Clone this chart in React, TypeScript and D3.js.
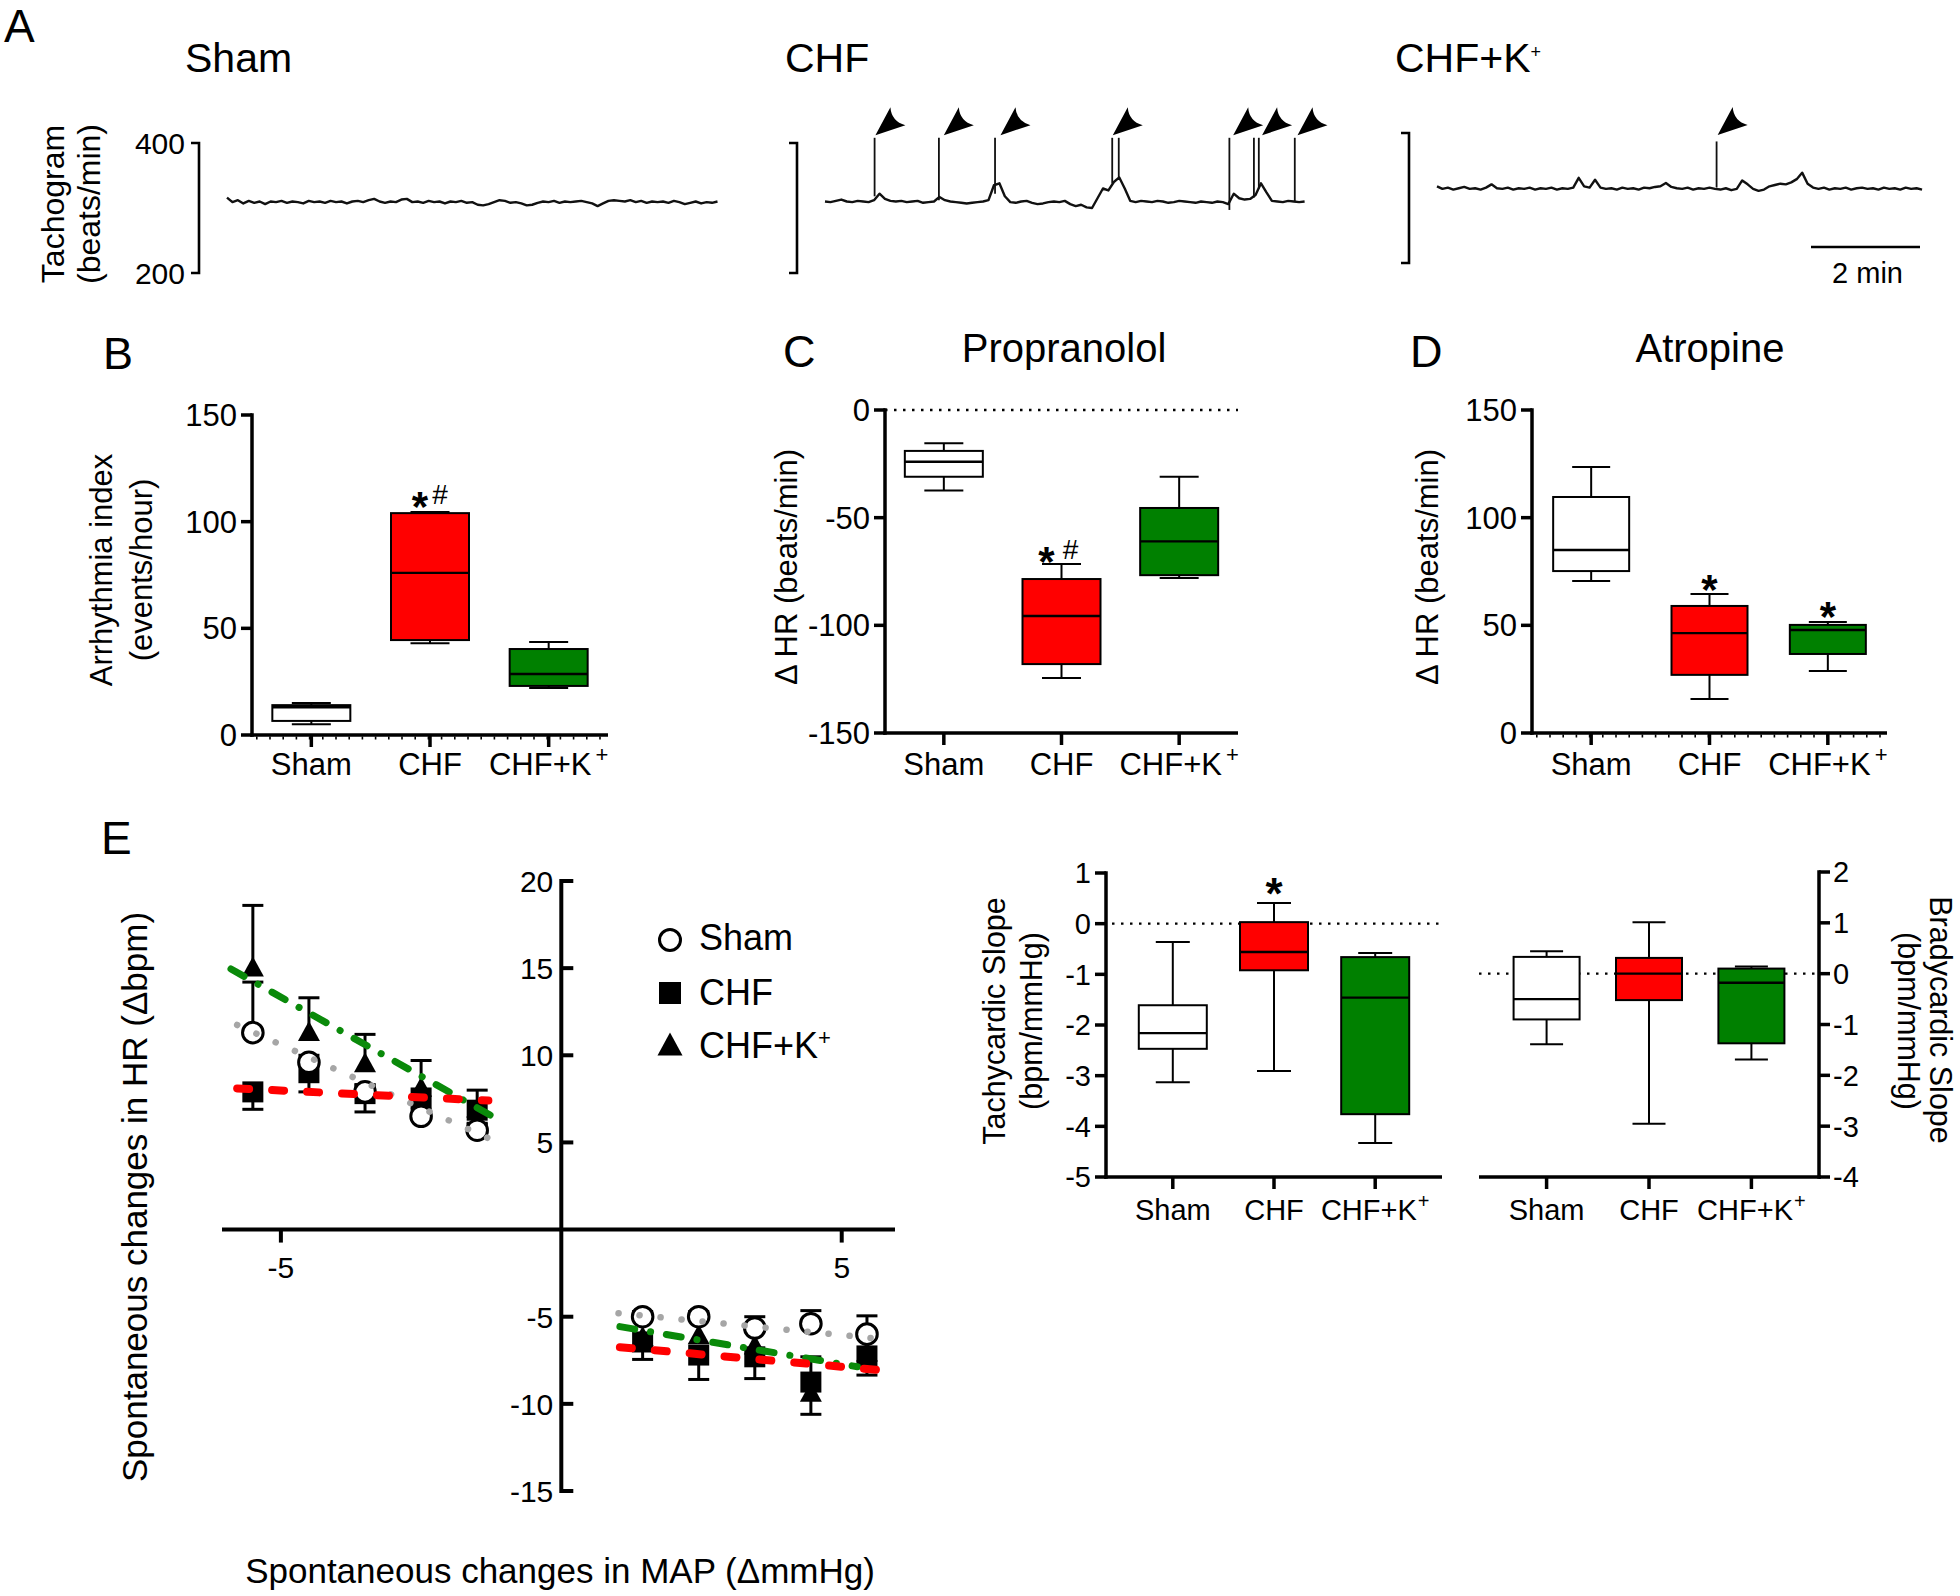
import React from 'react';
import * as d3 from 'd3';

const FONT = "'Liberation Sans', Arial, Helvetica, sans-serif";

// ---------------- Panel A: tachograms (beats/min, one sample every 0.1 min) ----------------
const TRACE_STEP_MIN = 0.1;
const shamTrace = [
  316, 309, 312, 307, 311, 308, 310, 306, 310, 309,
  311, 308, 310, 309, 307, 311, 309, 310, 308, 311,
  309, 310, 307, 310, 311, 309, 312, 314, 310, 308,
  310, 309, 313, 314, 309, 310, 308, 311, 309, 310,
  307, 310, 309, 311, 308, 309, 305, 304, 306, 309,
  312, 311, 308, 309, 307, 304, 305, 308, 310, 309,
  311, 308, 310, 309, 310, 311, 309, 307, 303, 307,
  311, 312, 311, 310, 312, 309, 311, 308, 310, 309,
  310, 308, 311, 309, 306, 308, 310, 307, 309, 308,
  310,
];
const chfTrace = [
  310, 309, 311, 313, 310, 309, 311, 310, 309, 312,
  322, 314, 311, 310, 311, 309, 310, 311, 308, 309,
  310, 317, 312, 310, 309, 308, 307, 308, 309, 310,
  312, 335, 338, 318, 309, 308, 310, 311, 308, 306,
  307, 309, 310, 309, 311, 306, 303, 305, 301, 300,
  315, 330, 327, 340, 347, 330, 311, 309, 311, 310,
  309, 311, 310, 308, 309, 311, 310, 309, 308, 310,
  309, 308, 310, 309, 306, 322, 315, 313, 314, 320,
  338, 324, 311, 310, 309, 311, 310, 309, 310,
];
const chfKTrace = [
  318, 314, 316, 313, 315, 317, 314, 315, 313, 316,
  321, 315, 314, 316, 313, 315, 314, 316, 313, 315,
  314, 316, 313, 315, 314, 316, 331, 318, 316, 328,
  316, 314, 315, 313, 316, 314, 315, 313, 316, 315,
  317, 318, 323, 317, 315, 314, 316, 313, 315, 314,
  316, 314, 313, 315, 312, 314, 327, 321, 314, 311,
  313, 318, 320, 322, 321, 324, 329, 339, 322, 316,
  314, 316, 313, 315, 314, 316, 313, 315, 316, 314,
  315, 313, 316, 314, 315, 313, 316, 314, 315, 313,
];
const chfSpikeTimes = [0.91, 2.09, 3.12, 5.27, 5.39, 7.42, 7.87, 7.96, 8.62];
const chfSpikeLow = [318, 312, 322, 338, 344, 297, 316, 330, 310];
const chfSpikePeak = [408, 408, 408, 408, 408, 408, 408, 408, 408];
const chfArrowTimes = [0.925, 2.18, 3.22, 5.28, 7.49, 8.02, 8.67];
const chfArrowBpm = 412;
const chfKSpikeTimes = [5.13];
const chfKSpikeLow = [316];
const chfKSpikePeak = [387];
const chfKArrowTimes = [5.15];
const chfKArrowBpm = 397;
const tachoTicks = [200, 400];
const scaleBarMin = 2;

// ---------------- Box-plot panels ----------------
const groups = ['Sham', 'CHF', 'CHF+K'];
const groupFill = ['#ffffff', '#ff0000', '#008000'];

// B: Arrhythmia index (events/hour)
const arrMin = [5, 43, 22];
const arrQ1 = [6.6, 44.5, 23];
const arrMed = [13, 76, 28.6];
const arrQ3 = [14, 104, 40.3];
const arrMax = [15, 104.5, 43.6];
const arrTicks = [0, 50, 100, 150];

// C: Propranolol, delta HR (beats/min)
const proMin = [-37.4, -124.5, -78];
const proQ1 = [-31, -118, -76.7];
const proMed = [-24, -95.7, -61];
const proQ3 = [-19, -78.5, -45.5];
const proMax = [-15.4, -71.5, -31];
const proTicks = [-150, -100, -50, 0];

// D: Atropine, delta HR (beats/min)
const atrMin = [70.6, 15.8, 28.8];
const atrQ1 = [75.2, 27, 36.7];
const atrMed = [85, 46.4, 47.8];
const atrQ3 = [109.6, 59, 50.2];
const atrMax = [123.5, 64.6, 51.6];
const atrTicks = [0, 50, 100, 150];

// E right: Tachycardic slope (bpm/mmHg)
const tacMin = [-3.13, -2.91, -4.33];
const tacQ1 = [-2.47, -0.92, -3.76];
const tacMed = [-2.16, -0.56, -1.46];
const tacQ3 = [-1.61, 0.03, -0.66];
const tacMax = [-0.36, 0.41, -0.58];
const tacTicks = [-5, -4, -3, -2, -1, 0, 1];

// E right: Bradycardic slope (bpm/mmHg)
const braMin = [-1.39, -2.95, -1.69];
const braQ1 = [-0.9, -0.52, -1.37];
const braMed = [-0.5, 0.0, -0.18];
const braQ3 = [0.33, 0.31, 0.1];
const braMax = [0.44, 1.01, 0.14];
const braTicks = [-4, -3, -2, -1, 0, 1, 2];

// ---------------- E left: spontaneous HR vs MAP changes ----------------
const mapBins = [-5.5, -4.5, -3.5, -2.5, -1.5, 1.45, 2.45, 3.45, 4.45, 5.45];
const shamHR = [11.3, 9.6, 7.9, 6.5, 5.7, -5.0, -5.0, -5.65, -5.4, -6.0];
const shamErr = [2.9, 0.4, 0.4, 0.4, 0.4, 0.3, 0.3, 0.65, 0.75, 1.05];
const chfHR = [7.9, 9.0, 7.8, 7.55, 6.85, -6.45, -7.2, -7.3, -8.75, -7.25];
const chfErr = [-1.0, -1.1, -1.05, -0.9, -0.8, -1.0, -1.4, -1.25, -1.85, -1.1];
const chfKHR = [15.1, 11.4, 9.6, 8.2, 7.0, -6.1, -6.0, -6.6, -9.3, -7.0];
const chfKErr = [3.5, 1.9, 1.6, 1.5, 1.0, 0, 0, 0, 2.0, 0];
const regShamLeft = [[-5.78, 11.74], [-1.3, 5.24]];
const regShamRight = [[1.02, -4.8], [5.59, -6.24]];
const regChfLeft = [[-5.78, 8.1], [-1.3, 7.4]];
const regChfRight = [[1.045, -6.75], [5.64, -8.05]];
const regChfKLeft = [[-5.89, 14.95], [-1.27, 6.57]];
const regChfKRight = [[1.045, -5.57], [5.28, -7.87]];
const hrTicks = [-15, -10, -5, 5, 10, 15, 20];
const mapTicks = [-5, 5];

// ---------------- helpers ----------------
function GroupLabel({ x, y, label, size, supSize, supDy, supDx = 0 }: any) {
  if (label === 'CHF+K') {
    return (
      <text x={x} y={y} fontSize={size} textAnchor="middle">
        CHF+K
        <tspan fontSize={supSize} dy={-supDy} dx={supDx}>+</tspan>
      </text>
    );
  }
  return (
    <text x={x} y={y} fontSize={size} textAnchor="middle">
      {label}
    </text>
  );
}

function Arrowhead({ x, y }: { x: number; y: number }) {
  const d = `M${x},${y} L${x + 15},${y - 28} Q${x + 16},${y - 14} ${x + 30},${y - 10} Z`;
  return <path d={d} fill="#000" />;
}

function Trace({ values, tx, ty }: any) {
  const line = d3
    .line<number>()
    .x((_, i) => tx(i * TRACE_STEP_MIN))
    .y((v) => ty(v));
  return <path d={line(values) || ''} fill="none" stroke="#111" strokeWidth={2.4} strokeLinejoin="round" />;
}

function Bracket({ x, ty, labels }: any) {
  const yTop = ty(400);
  const yBot = ty(200);
  return (
    <g>
      <path d={`M${x - 8},${yTop} H${x} V${yBot} H${x - 8}`} fill="none" stroke="#000" strokeWidth={2.6} />
      {labels &&
        tachoTicks.map((t) => (
          <text key={t} x={x - 14} y={ty(t) + 10.5} fontSize={30} textAnchor="end">
            {t}
          </text>
        ))}
    </g>
  );
}

function PanelA() {
  const ty1 = d3.scaleLinear().domain([200, 400]).range([273, 143]);
  const ty2 = d3.scaleLinear().domain([200, 400]).range([263, 133]);
  const pxPerMin = 54.5;
  const txSham = d3.scaleLinear().domain([0, 1]).range([227, 227 + pxPerMin]);
  const txChf = d3.scaleLinear().domain([0, 1]).range([825, 825 + pxPerMin]);
  const txK = d3.scaleLinear().domain([0, 1]).range([1437, 1437 + pxPerMin]);
  const barRight = 1920;
  const barLeft = barRight - (txK(scaleBarMin) - txK(0));
  return (
    <g>
      <text x={4} y={42} fontSize={46}>A</text>
      <text x={185} y={72} fontSize={41}>Sham</text>
      <text x={785} y={72} fontSize={41}>CHF</text>
      <text x={1395} y={72} fontSize={41}>
        CHF+K<tspan fontSize={18} dy={-14}>+</tspan>
      </text>
      <text transform="translate(64,204) rotate(-90)" fontSize={32} textAnchor="middle">Tachogram</text>
      <text transform="translate(100,204) rotate(-90)" fontSize={32} textAnchor="middle">(beats/min)</text>

      <Bracket x={199} ty={ty1} labels />
      <Trace values={shamTrace} tx={txSham} ty={ty1} />

      <Bracket x={797} ty={ty1} />
      <Trace values={chfTrace} tx={txChf} ty={ty1} />
      {chfSpikeTimes.map((t, i) => (
        <line key={i} x1={txChf(t)} x2={txChf(t)} y1={ty1(chfSpikeLow[i])} y2={ty1(chfSpikePeak[i])} stroke="#111" strokeWidth={1.8} />
      ))}
      {chfArrowTimes.map((t, i) => (
        <Arrowhead key={i} x={txChf(t)} y={ty1(chfArrowBpm)} />
      ))}

      <Bracket x={1409} ty={ty2} />
      <Trace values={chfKTrace} tx={txK} ty={ty2} />
      {chfKSpikeTimes.map((t, i) => (
        <line key={i} x1={txK(t)} x2={txK(t)} y1={ty2(chfKSpikeLow[i])} y2={ty2(chfKSpikePeak[i])} stroke="#111" strokeWidth={1.8} />
      ))}
      {chfKArrowTimes.map((t, i) => (
        <Arrowhead key={i} x={txK(t)} y={ty2(chfKArrowBpm)} />
      ))}

      <line x1={barLeft} x2={barRight} y1={247} y2={247} stroke="#000" strokeWidth={2.6} />
      <text x={(barLeft + barRight) / 2 + 2} y={283} fontSize={29} textAnchor="middle">
        {scaleBarMin} min
      </text>
    </g>
  );
}

function BoxPanel(props: any) {
  const {
    x, y, ticks, side = 'left', stats, halfW, tickFont, catFont, catBaseline,
    dottedZero, dottedZeroFrom, dottedZeroTo, minorTicks, axisW = 3.5, supSize, supDy, supDx = 0,
  } = props;
  const [x0, x1] = x.range();
  const [ymin, ymax] = y.domain();
  const yAxisPx = y(ymin);
  const axX = side === 'left' ? x0 : x1;
  const tickLen = 11;
  return (
    <g>
      {dottedZero && (
        <line x1={dottedZeroFrom ?? x0} x2={dottedZeroTo ?? x1} y1={y(0)} y2={y(0)} stroke="#000" strokeWidth={2.4} strokeDasharray="2.5 6.5" />
      )}
      {groups.map((g, i) => {
        const cx = x(g);
        const top = y(stats.max[i]);
        const bot = y(stats.min[i]);
        const bTop = Math.min(y(stats.q3[i]), y(stats.q1[i]));
        const bBot = Math.max(y(stats.q3[i]), y(stats.q1[i]));
        return (
          <g key={g} stroke="#000" strokeWidth={2}>
            <line x1={cx} x2={cx} y1={top} y2={bot} />
            <line x1={cx - halfW / 2} x2={cx + halfW / 2} y1={top} y2={top} />
            <line x1={cx - halfW / 2} x2={cx + halfW / 2} y1={bot} y2={bot} />
            <rect x={cx - halfW} y={bTop} width={2 * halfW} height={bBot - bTop} fill={groupFill[i]} />
            <line x1={cx - halfW} x2={cx + halfW} y1={y(stats.med[i])} y2={y(stats.med[i])} strokeWidth={2.4} />
          </g>
        );
      })}
      {/* axes */}
      <line x1={axX} x2={axX} y1={y(ymax) - axisW / 2} y2={yAxisPx + axisW / 2} stroke="#000" strokeWidth={axisW} />
      <line x1={x0 - (side === 'left' ? axisW / 2 : 0)} x2={x1 + (side === 'right' ? axisW / 2 : 0)} y1={yAxisPx} y2={yAxisPx} stroke="#000" strokeWidth={axisW} />
      {minorTicks && (
        <line x1={x0 + 4} x2={x1} y1={yAxisPx + 3} y2={yAxisPx + 3} stroke="#000" strokeWidth={3} strokeDasharray="1.6 11.6" />
      )}
      {ticks.map((t: number) => {
        const ty = y(t);
        return side === 'left' ? (
          <g key={t}>
            <line x1={axX - tickLen} x2={axX} y1={ty} y2={ty} stroke="#000" strokeWidth={axisW} />
            <text x={axX - tickLen - 4} y={ty + tickFont * 0.36} fontSize={tickFont} textAnchor="end">{t}</text>
          </g>
        ) : (
          <g key={t}>
            <line x1={axX} x2={axX + tickLen} y1={ty} y2={ty} stroke="#000" strokeWidth={axisW} />
            <text x={axX + tickLen + 3} y={ty + tickFont * 0.36} fontSize={tickFont} textAnchor="start">{t}</text>
          </g>
        );
      })}
      {groups.map((g) => (
        <g key={g}>
          <line x1={x(g)} x2={x(g)} y1={yAxisPx} y2={yAxisPx + 12} stroke="#000" strokeWidth={axisW} />
          <GroupLabel x={x(g)} y={catBaseline} label={g} size={catFont} supSize={supSize} supDy={supDy} supDx={supDx} />
        </g>
      ))}
    </g>
  );
}

function Star({ x, y, size = 42, weight = 'bold' }: any) {
  // y = vertical centre of the asterisk glyph
  return (
    <text x={x} y={y + size * 0.57} fontSize={size} textAnchor="middle" fontWeight={weight}>*</text>
  );
}

function Hash({ x, y, size = 28 }: any) {
  return (
    <text x={x} y={y} fontSize={size} textAnchor="middle">#</text>
  );
}

function Circle({ cx, cy, r }: any) {
  return <circle cx={cx} cy={cy} r={r} fill="#fff" stroke="#000" strokeWidth={3} />;
}
function Square({ cx, cy, s }: any) {
  return <rect x={cx - s / 2} y={cy - s / 2} width={s} height={s} fill="#000" />;
}
function Tri({ cx, cy, w, h }: any) {
  return <path d={`M${cx},${cy - h / 2} L${cx + w / 2},${cy + h / 2} L${cx - w / 2},${cy + h / 2} Z`} fill="#000" />;
}

function PanelEScatter() {
  const x = d3.scaleLinear().domain([-6.05, 5.95]).range([222, 895]);
  const y = d3.scaleLinear().domain([-15, 20]).range([1491, 881]);
  const y0 = y(0);
  const x0 = x(0);
  const line = d3.line<number[]>().x((d) => x(d[0])).y((d) => y(d[1]));
  const errBars = (vals: number[], errs: number[], key: string) =>
    vals.map((v, i) => {
      if (!errs[i]) return null;
      const cx = x(mapBins[i]);
      const yEnd = y(v + errs[i]);
      return (
        <g key={key + i} stroke="#000" strokeWidth={3}>
          <line x1={cx} x2={cx} y1={y(v)} y2={yEnd} />
          <line x1={cx - 10.5} x2={cx + 10.5} y1={yEnd} y2={yEnd} />
        </g>
      );
    });
  return (
    <g>
      <text x={101} y={854} fontSize={46}>E</text>
      {/* axes */}
      <line x1={222} x2={895} y1={y0} y2={y0} stroke="#000" strokeWidth={4} />
      <line x1={x0} x2={x0} y1={y(20) - 2} y2={y(-15) + 2} stroke="#000" strokeWidth={4} />
      {hrTicks.map((t) => (
        <g key={t}>
          <line x1={x0} x2={x0 + 12} y1={y(t)} y2={y(t)} stroke="#000" strokeWidth={4} />
          <text x={x0 - 8} y={y(t) + 11} fontSize={30} textAnchor="end">{t}</text>
        </g>
      ))}
      {mapTicks.map((t) => (
        <g key={t}>
          <line x1={x(t)} x2={x(t)} y1={y0} y2={y0 + 13} stroke="#000" strokeWidth={4} />
          <text x={x(t)} y={1278} fontSize={30} textAnchor="middle">{t}</text>
        </g>
      ))}
      <text transform={`translate(147,1197) rotate(-90)`} fontSize={35} textAnchor="middle">
        Spontaneous changes in HR (Δbpm)
      </text>
      <text x={560} y={1583} fontSize={35} textAnchor="middle">
        Spontaneous changes in MAP (ΔmmHg)
      </text>

      {/* error bars */}
      {errBars(chfKHR, chfKErr, 'k')}
      {errBars(chfHR, chfErr, 'c')}
      {errBars(shamHR, shamErr, 's')}
      {/* markers */}
      {chfKHR.map((v, i) => <Tri key={'t' + i} cx={x(mapBins[i])} cy={y(v)} w={22} h={20} />)}
      {chfHR.map((v, i) => <Square key={'q' + i} cx={x(mapBins[i])} cy={y(v)} s={21} />)}
      {shamHR.map((v, i) => <Circle key={'o' + i} cx={x(mapBins[i])} cy={y(v)} r={10.3} />)}

      {/* regression lines */}
      {[regShamLeft, regShamRight].map((d, i) => (
        <path key={'gs' + i} d={line(d as any) || ''} stroke="#a6a6a6" strokeWidth={6.5} strokeLinecap="round" strokeDasharray="0.1 21" fill="none" />
      ))}
      {[regChfKLeft, regChfKRight].map((d, i) => (
        <path key={'gk' + i} d={line(d as any) || ''} stroke="#0a8a0a" strokeWidth={7} strokeLinecap="round" strokeDasharray="15 16 0.1 16" fill="none" />
      ))}
      {[regChfLeft, regChfRight].map((d, i) => (
        <path key={'gc' + i} d={line(d as any) || ''} stroke="#ff0000" strokeWidth={8} strokeLinecap="round" strokeDasharray="12 23" fill="none" />
      ))}

      {/* legend */}
      <Circle cx={670} cy={940} r={10.5} />
      <text x={699} y={950} fontSize={36}>Sham</text>
      <Square cx={670} cy={993} s={22} />
      <text x={699} y={1005} fontSize={36}>CHF</text>
      <Tri cx={670} cy={1044} w={25} h={23} />
      <text x={699} y={1058} fontSize={36}>
        CHF+K<tspan fontSize={22} dy={-13}>+</tspan>
      </text>
    </g>
  );
}

export default function App() {
  const xB = d3.scalePoint<string>().domain(groups).range([252, 608]).padding(0.5);
  const yB = d3.scaleLinear().domain([0, 150]).range([735, 415]);
  const xC = d3.scalePoint<string>().domain(groups).range([885, 1238]).padding(0.5);
  const yC = d3.scaleLinear().domain([-150, 0]).range([733, 410]);
  const xD = d3.scalePoint<string>().domain(groups).range([1532, 1887]).padding(0.5);
  const yD = d3.scaleLinear().domain([0, 150]).range([733, 410]);
  const xT = d3.scalePoint<string>().domain(groups).range([1106, 1442]).padding(0.66);
  const yT = d3.scaleLinear().domain([-5, 1]).range([1177, 873]);
  const xR = d3.scalePoint<string>().domain(groups).range([1479, 1819]).padding(0.66);
  const yR = d3.scaleLinear().domain([-4, 2]).range([1177, 872]);

  return (
    <div style={{ position: 'absolute', left: 0, top: 0, width: 1960, height: 1596, background: '#fff' }}>
      <svg width={1960} height={1596} fontFamily={FONT} style={{ display: 'block' }}>
        <rect width={1960} height={1596} fill="#fff" />
        <PanelA />

        {/* B */}
        <text x={103} y={369} fontSize={45}>B</text>
        <text transform="translate(112,570) rotate(-90)" fontSize={31} textAnchor="middle">Arrhythmia index</text>
        <text transform="translate(152,570) rotate(-90)" fontSize={31} textAnchor="middle">(events/hour)</text>
        <BoxPanel x={xB} y={yB} ticks={arrTicks} halfW={39} tickFont={31} catFont={31} catBaseline={775}
          stats={{ min: arrMin, q1: arrQ1, med: arrMed, q3: arrQ3, max: arrMax }} minorTicks supSize={22} supDy={13} supDx={4} />
        <Star x={xB('CHF')! - 10} y={497} />
        <Hash x={xB('CHF')! + 10} y={504} />

        {/* C */}
        <text x={783} y={367} fontSize={45}>C</text>
        <text x={1064} y={362} fontSize={40} textAnchor="middle">Propranolol</text>
        <text transform="translate(797,567) rotate(-90)" fontSize={31} textAnchor="middle">Δ HR (beats/min)</text>
        <BoxPanel x={xC} y={yC} ticks={proTicks} halfW={39} tickFont={31} catFont={31} catBaseline={775}
          stats={{ min: proMin, q1: proQ1, med: proMed, q3: proQ3, max: proMax }} dottedZero supSize={22} supDy={13} supDx={4} />
        <Star x={xC('CHF')! - 15} y={552} />
        <Hash x={xC('CHF')! + 9} y={559} />

        {/* D */}
        <text x={1410} y={367} fontSize={45}>D</text>
        <text x={1710} y={362} fontSize={40} textAnchor="middle">Atropine</text>
        <text transform="translate(1438,567) rotate(-90)" fontSize={31} textAnchor="middle">Δ HR (beats/min)</text>
        <BoxPanel x={xD} y={yD} ticks={atrTicks} halfW={38} tickFont={31} catFont={31} catBaseline={775}
          stats={{ min: atrMin, q1: atrQ1, med: atrMed, q3: atrQ3, max: atrMax }} minorTicks supSize={22} supDy={13} supDx={4} />
        <Star x={xD('CHF')!} y={580} />
        <Star x={xD('CHF+K')!} y={607} />

        {/* E scatter */}
        <PanelEScatter />

        {/* E tachycardic */}
        <text transform="translate(1005,1021) rotate(-90)" fontSize={30.5} textAnchor="middle">Tachycardic Slope</text>
        <text transform="translate(1042,1021) rotate(-90)" fontSize={30.5} textAnchor="middle">(bpm/mmHg)</text>
        <BoxPanel x={xT} y={yT} ticks={tacTicks} halfW={34} tickFont={29} catFont={29} catBaseline={1220}
          stats={{ min: tacMin, q1: tacQ1, med: tacMed, q3: tacQ3, max: tacMax }} dottedZero dottedZeroFrom={1112} dottedZeroTo={1442}
          supSize={20} supDy={12} supDx={1} />
        <Star x={xT('CHF')!} y={884} size={44} />

        {/* E bradycardic */}
        <BoxPanel x={xR} y={yR} side="right" ticks={braTicks} halfW={33} tickFont={29} catFont={29} catBaseline={1220}
          stats={{ min: braMin, q1: braQ1, med: braMed, q3: braQ3, max: braMax }} dottedZero dottedZeroFrom={1479} dottedZeroTo={1815}
          supSize={20} supDy={12} supDx={1} />
        <text transform="translate(1930,1020) rotate(90)" fontSize={30.5} textAnchor="middle">Bradycardic Slope</text>
        <text transform="translate(1898,1021) rotate(90)" fontSize={30.5} textAnchor="middle">(bpm/mmHg)</text>
      </svg>
    </div>
  );
}
